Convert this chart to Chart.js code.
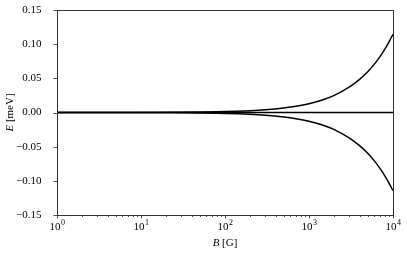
<!DOCTYPE html>
<html>
<head>
<meta charset="utf-8">
<script src="https://cdn.jsdelivr.net/npm/chart.js@4"></script>
<style>
  html, body { margin: 0; padding: 0; background: #fff; }
  #wrap { width: 407px; height: 254px; }
</style>
</head>
<body>
<div id="wrap"><canvas id="myChart" width="407" height="254"></canvas></div>
<script>
// magnetic field values (G)
var bField = [1, 10, 100, 200, 300, 500, 700, 1000, 1500, 2000, 3000, 4000, 5000, 6000, 7000, 8000, 9000, 10000];
// energies (meV)
var eUpper = [0.00001, 0.00013, 0.0013, 0.0026, 0.0039, 0.0065, 0.009, 0.0128, 0.019, 0.025, 0.037, 0.0485, 0.0597, 0.0708, 0.0818, 0.0927, 0.1037, 0.1145];
var eZero  = [0, 0, 0, 0, 0, 0, 0, 0, 0, 0, 0, 0, 0, 0, 0, 0, 0, 0];
var eLower = [-0.00001, -0.00013, -0.0013, -0.0026, -0.0039, -0.0065, -0.009, -0.0128, -0.019, -0.025, -0.037, -0.0485, -0.0597, -0.0708, -0.0818, -0.0927, -0.1037, -0.1145];
var xDecades = [1, 10, 100, 1000, 10000];
var yTicks = [-0.15, -0.10, -0.05, 0.00, 0.05, 0.10, 0.15];

var serif = "'Liberation Serif', 'DejaVu Serif', serif";

function pts(ys) {
  return bField.map(function (b, i) { return { x: b, y: ys[i] }; });
}

// axis ticks, decade labels and axis titles
var axisDecor = {
  id: 'axisDecor',
  afterDraw: function (chart) {
    var c = chart.ctx, a = chart.chartArea;
    var xs = chart.scales.x, ys = chart.scales.y;
    c.save();
    c.strokeStyle = '#222';
    c.lineWidth = 0.8;
    // x ticks (major + minor)
    for (var d = 0; d < 4; d++) {
      for (var m = 1; m <= 9; m++) {
        var v = Math.pow(10, d) * m;
        var px = Math.round(xs.getPixelForValue(v)) + 0.5;
        var len = m === 1 ? 3.5 : 2;
        c.beginPath(); c.moveTo(px, a.bottom); c.lineTo(px, a.bottom + len); c.stroke();
      }
    }
    var last = Math.round(xs.getPixelForValue(10000)) + 0.5;
    c.beginPath(); c.moveTo(last, a.bottom); c.lineTo(last, a.bottom + 3.5); c.stroke();
    // y ticks
    yTicks.forEach(function (t) {
      var py = Math.round(ys.getPixelForValue(t)) + 0.5;
      c.beginPath(); c.moveTo(a.left, py); c.lineTo(a.left - 3.5, py); c.stroke();
    });
    // x decade labels
    c.fillStyle = '#000';
    c.textBaseline = 'alphabetic';
    xDecades.forEach(function (v, i) {
      var px = xs.getPixelForValue(v);
      c.font = '11px ' + serif;
      var w1 = c.measureText('10').width;
      c.font = '8px ' + serif;
      var w2 = c.measureText(String(i)).width;
      var x0 = px - (w1 + w2) / 2;
      c.font = '11px ' + serif;
      c.textAlign = 'left';
      c.fillText('10', x0, a.bottom + 15);
      c.font = '8px ' + serif;
      c.fillText(String(i), x0 + w1 + 0.5, a.bottom + 10);
    });
    // x title: B [G]
    var cx = (a.left + a.right) / 2;
    c.font = 'italic 11px ' + serif;
    var wb = c.measureText('B').width;
    c.font = '11px ' + serif;
    var wr = c.measureText(' [G]').width;
    var sx = cx - (wb + wr) / 2;
    c.font = 'italic 11px ' + serif;
    c.fillText('B', sx, a.bottom + 31);
    c.font = '11px ' + serif;
    c.fillText(' [G]', sx + wb, a.bottom + 31);
    // y title: E [meV]
    c.translate(12.5, (a.top + a.bottom) / 2);
    c.rotate(-Math.PI / 2);
    c.font = 'italic 11px ' + serif;
    var we = c.measureText('E').width;
    c.font = '11px ' + serif;
    var wm = c.measureText(' [meV]').width;
    var sy = -(we + wm) / 2;
    c.font = 'italic 11px ' + serif;
    c.fillText('E', sy, 0);
    c.font = '11px ' + serif;
    c.fillText(' [meV]', sy + we, 0);
    c.restore();
  }
};

var ctx = document.getElementById('myChart').getContext('2d');
var chart = new Chart(ctx, {
  type: 'line',
  data: {
    datasets: [
      { data: pts(eUpper), borderColor: '#000', borderWidth: 1.5, pointRadius: 0, cubicInterpolationMode: 'monotone', fill: false },
      { data: pts(eZero), borderColor: '#000', borderWidth: 1.5, pointRadius: 0, fill: false },
      { data: pts(eLower), borderColor: '#000', borderWidth: 1.5, pointRadius: 0, cubicInterpolationMode: 'monotone', fill: false }
    ]
  },
  options: {
    responsive: false,
    animation: false,
    events: [],
    layout: { padding: { left: 0, right: 14, top: 10, bottom: 0 } },
    plugins: { legend: { display: false }, tooltip: { enabled: false } },
    scales: {
      x: {
        type: 'logarithmic',
        min: 1,
        max: 10000,
        afterFit: function (s) { s.height = 39; s.paddingLeft = 0; s.paddingRight = 0; },
        grid: { display: false },
        border: { display: true, color: '#333', width: 1 },
        ticks: { display: false }
      },
      y: {
        min: -0.15,
        max: 0.15,
        afterFit: function (s) { s.width = 57; s.paddingTop = 0; s.paddingBottom = 0; },
        afterBuildTicks: function (s) { s.ticks = yTicks.map(function (v) { return { value: v }; }); },
        grid: { display: false },
        border: { display: true, color: '#333', width: 1 },
        ticks: {
          padding: 7.5,
          color: '#000',
          font: { family: serif, size: 11 },
          callback: function (v) { return (v < 0 ? '\u2212' : '') + Math.abs(v).toFixed(2); }
        }
      }
    }
  },
  plugins: [axisDecor, {
    id: 'frame',
    afterDraw: function (chart) {
      var c = chart.ctx, a = chart.chartArea;
      c.save();
      c.strokeStyle = '#333';
      c.lineWidth = 1;
      c.strokeRect(Math.round(a.left) + 0.5, Math.round(a.top) + 0.5, Math.round(a.right - a.left), Math.round(a.bottom - a.top));
      c.restore();
    }
  }]
});
</script>
</body>
</html>
